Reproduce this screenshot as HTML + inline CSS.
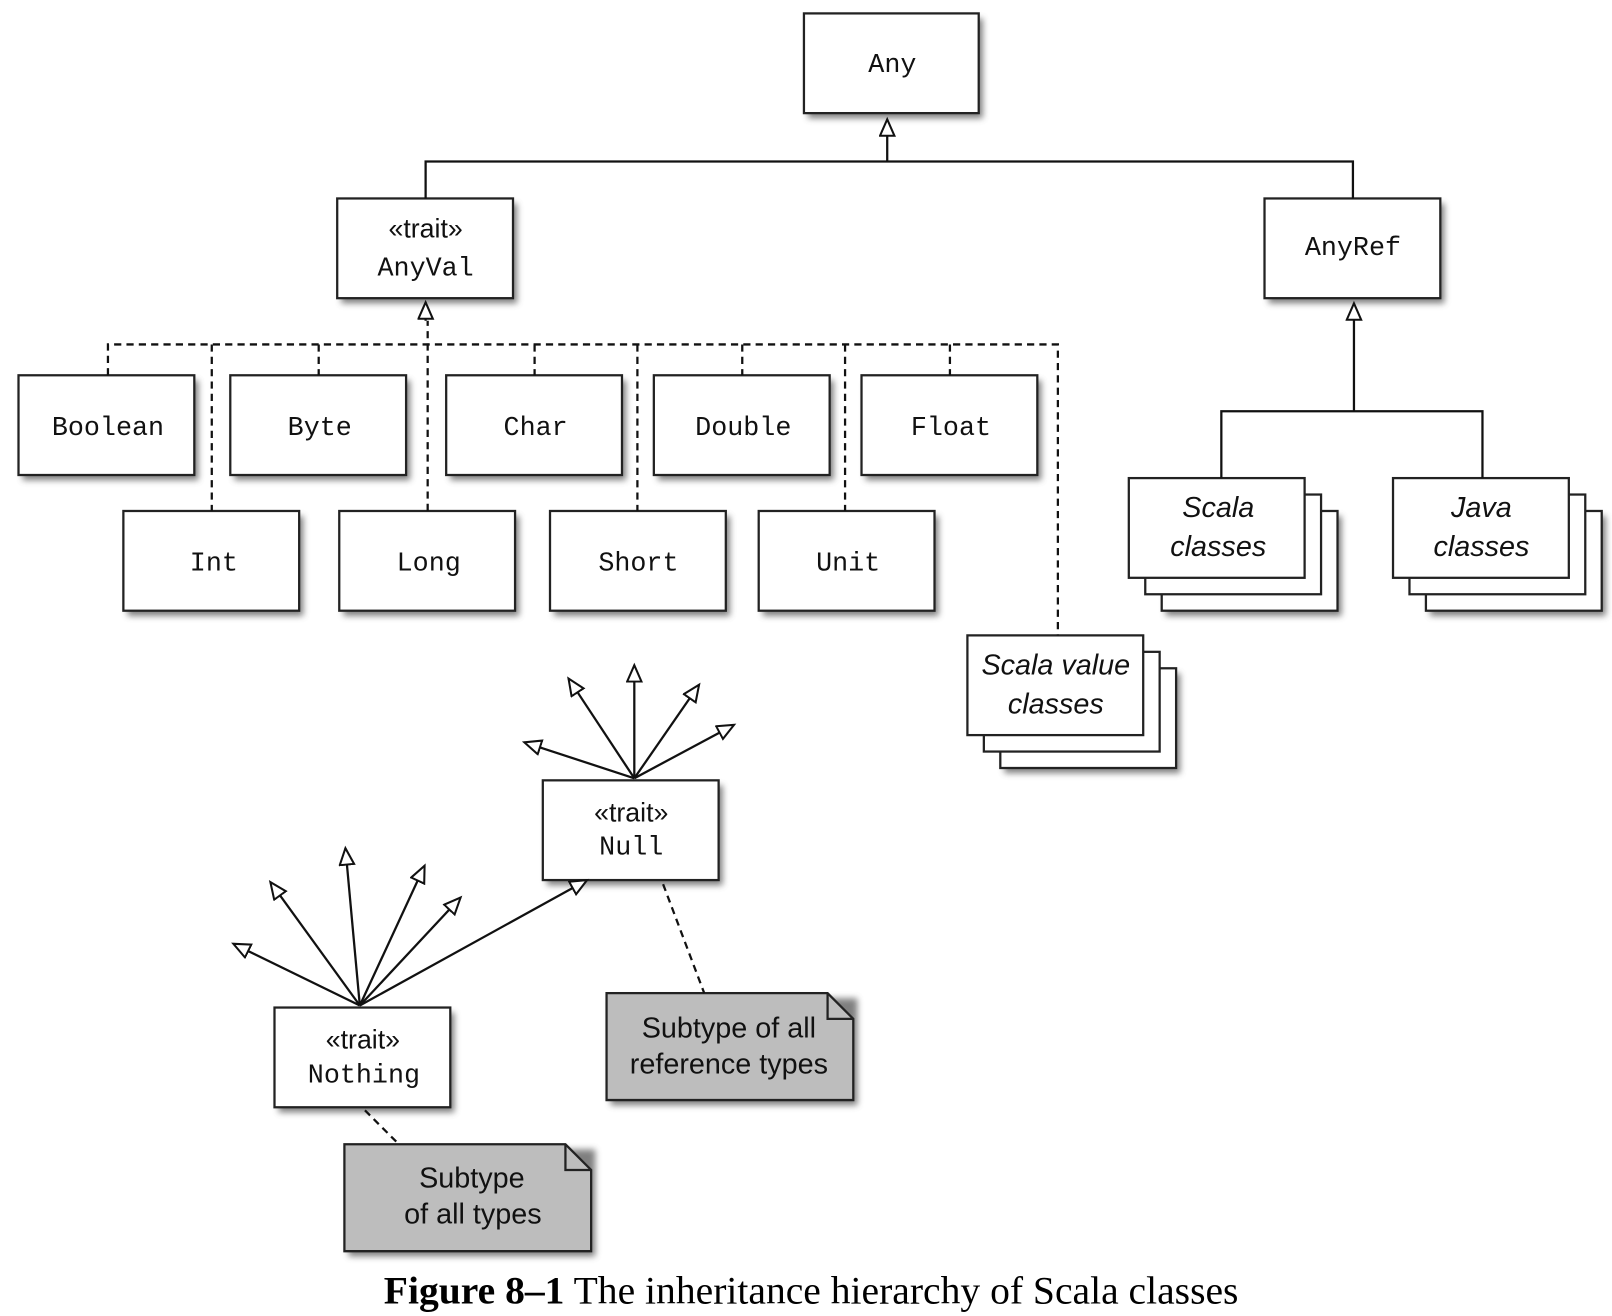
<!DOCTYPE html>
<html><head><meta charset="utf-8">
<style>
html,body{margin:0;padding:0;background:#fff;}
svg{display:block;}
.m{font-family:"Liberation Mono",monospace;font-size:26px;fill:#111;}
.t{font-family:"Liberation Sans",sans-serif;font-size:26px;fill:#111;}
.i{font-family:"Liberation Sans",sans-serif;font-style:italic;font-size:28px;fill:#111;}
.n{font-family:"Liberation Sans",sans-serif;font-size:28px;fill:#111;}
</style></head><body>
<svg width="1612" height="1316" viewBox="0 0 1568 1280" xmlns="http://www.w3.org/2000/svg">
<defs>
<filter id="sh" x="-20%" y="-20%" width="140%" height="150%"><feGaussianBlur stdDeviation="3"/></filter>
<marker id="ar" markerWidth="20" markerHeight="20" refX="17" refY="8" orient="auto" markerUnits="userSpaceOnUse">
<path d="M1,1 L17,8 L1,15 Z" fill="#fff" stroke="#111" stroke-width="2"/></marker>
</defs>
<g fill="#555" filter="url(#sh)" opacity="0.75">
<rect x="786" y="18" width="170" height="97"/>
<rect x="332" y="198" width="171" height="97"/>
<rect x="1234" y="198" width="171" height="97"/>
<rect x="22" y="370" width="171" height="97"/><rect x="228" y="370" width="171" height="97"/>
<rect x="438" y="370" width="171" height="97"/><rect x="640" y="370" width="171" height="97"/>
<rect x="842" y="370" width="171" height="97"/>
<rect x="124" y="502" width="171" height="97"/><rect x="334" y="502" width="171" height="97"/>
<rect x="539" y="502" width="171" height="97"/><rect x="742" y="502" width="171" height="97"/>
<rect x="1134" y="502" width="171" height="97"/><rect x="1391" y="502" width="171" height="97"/>
<rect x="977" y="655" width="171" height="97"/>
<rect x="532" y="764" width="171" height="97"/><rect x="271" y="985" width="171" height="97"/>
<rect x="594" y="971" width="240" height="104"/><rect x="339" y="1118" width="240" height="104"/>
</g>
<g stroke="#222" stroke-width="2.2" fill="#fff">
<rect x="782" y="13" width="170" height="97"/>
<rect x="328" y="193" width="171" height="97"/>
<rect x="1230" y="193" width="171" height="97"/>
<rect x="18" y="365" width="171" height="97"/><rect x="224" y="365" width="171" height="97"/>
<rect x="434" y="365" width="171" height="97"/><rect x="636" y="365" width="171" height="97"/>
<rect x="838" y="365" width="171" height="97"/>
<rect x="120" y="497" width="171" height="97"/><rect x="330" y="497" width="171" height="97"/>
<rect x="535" y="497" width="171" height="97"/><rect x="738" y="497" width="171" height="97"/>
<rect x="1130" y="497" width="171" height="97"/><rect x="1114" y="481" width="171" height="97"/><rect x="1098" y="465" width="171" height="97"/>
<rect x="1387" y="497" width="171" height="97"/><rect x="1371" y="481" width="171" height="97"/><rect x="1355" y="465" width="171" height="97"/>
<rect x="973" y="650" width="171" height="97"/><rect x="957" y="634" width="171" height="97"/><rect x="941" y="618" width="171" height="97"/>
<rect x="528" y="759" width="171" height="97"/><rect x="267" y="980" width="171" height="97"/>
</g>
<g stroke="#222" stroke-width="2.2" fill="#bdbdbd">
<path d="M590,966 H805 L830,991 V1070 H590 Z"/><path d="M805,966 V991 H830" fill="none"/>
<path d="M335,1113 H550 L575,1138 V1217 H335 Z"/><path d="M550,1113 V1138 H575" fill="none"/>
</g>
<g stroke="#111" stroke-width="2.2" fill="none">
<path d="M414,193 V157 H1316 V193"/>
<path d="M863,157 V116" marker-end="url(#ar)"/>
<path d="M1317,400 V295" marker-end="url(#ar)"/>
<path d="M1188,465 V400 H1442 V465"/>
<path d="M414,312 V294" marker-end="url(#ar)"/>
</g>
<g stroke="#111" stroke-width="2.2" fill="none" stroke-dasharray="7,5">
<path d="M416,497 V312"/>
<path d="M105,365 V335 H1029 V618"/>
<path d="M206,335 V497 M310,335 V365 M520,335 V365 M620,335 V497 M722,335 V365 M822,335 V497 M924,335 V365"/>
<path d="M645,860 L685,966 M355,1080 L388,1113"/>
</g>
<g stroke="#111" stroke-width="2.2" fill="none">
<path d="M617,757 L510,722" marker-end="url(#ar)"/>
<path d="M617,757 L553,660" marker-end="url(#ar)"/>
<path d="M617,757 L617,647" marker-end="url(#ar)"/>
<path d="M617,757 L680,666" marker-end="url(#ar)"/>
<path d="M617,757 L714,705" marker-end="url(#ar)"/>
<path d="M350,978 L227,918" marker-end="url(#ar)"/>
<path d="M350,978 L263,858" marker-end="url(#ar)"/>
<path d="M350,978 L336,825" marker-end="url(#ar)"/>
<path d="M350,978 L413,842" marker-end="url(#ar)"/>
<path d="M350,978 L448,873" marker-end="url(#ar)"/>
<path d="M350,978 L571,856" marker-end="url(#ar)"/>
</g>
<g text-anchor="middle">
<text class="m" x="868" y="70">Any</text>
<text class="t" x="414" y="231">«trait»</text><text class="m" x="414" y="268">AnyVal</text>
<text class="m" x="1316" y="248">AnyRef</text>
<text class="m" x="105" y="423">Boolean</text><text class="m" x="311" y="423">Byte</text>
<text class="m" x="521" y="423">Char</text><text class="m" x="723" y="423">Double</text>
<text class="m" x="925" y="423">Float</text>
<text class="m" x="208" y="555">Int</text><text class="m" x="417" y="555">Long</text>
<text class="m" x="621" y="555">Short</text><text class="m" x="825" y="555">Unit</text>
<text class="i" x="1185" y="503">Scala</text><text class="i" x="1185" y="541">classes</text>
<text class="i" x="1441" y="503">Java</text><text class="i" x="1441" y="541">classes</text>
<text class="i" x="1027" y="656">Scala value</text><text class="i" x="1027" y="694">classes</text>
<text class="t" x="614" y="799">«trait»</text><text class="m" x="614" y="831">Null</text>
<text class="t" x="353" y="1020">«trait»</text><text class="m" x="354" y="1053">Nothing</text>
<text class="n" x="709" y="1009">Subtype of all</text><text class="n" x="709" y="1044">reference types</text>
<text class="n" x="459" y="1155">Subtype</text><text class="n" x="460" y="1190">of all types</text>
<text x="789" y="1268" style="font-family:'Liberation Serif',serif;font-size:38.5px;fill:#000"><tspan font-weight="bold">Figure 8–1</tspan> The inheritance hierarchy of Scala classes</text>
</g>
</svg>
</body></html>
